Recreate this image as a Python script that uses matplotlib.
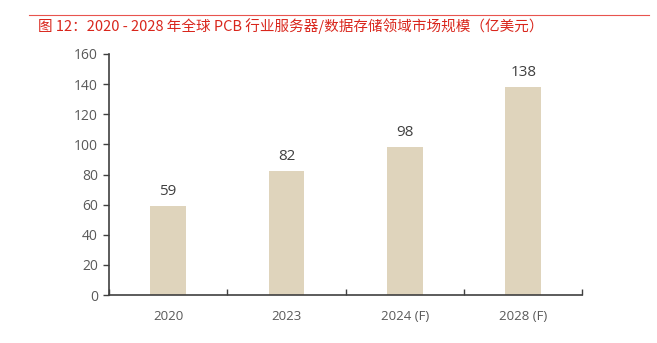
import matplotlib
matplotlib.use("Agg")
from matplotlib import pyplot as plt
from matplotlib.lines import Line2D

plt.rcParams['font.family'] = ['Noto Sans CJK SC', 'DejaVu Sans']

years = ['2020', '2023', '2024 (F)', '2028 (F)']
market = [59, 82, 98, 138]
yticks = [0, 20, 40, 60, 80, 100, 120, 140, 160]

fig = plt.figure(figsize=(6.57, 3.43), dpi=100)
ax = fig.add_axes([0.1659, 0.1399, 0.7205, 0.7027])

x = range(len(years))
bars = ax.bar(x, market, width=0.30, color='#DFD4BC')
for b, v in zip(bars, market):
    ax.text(b.get_x() + b.get_width() / 2, v + 5, str(v), ha='center', va='bottom',
            fontsize=11, color='#404040', family=['Open Sans', 'DejaVu Sans'])

ax.set_xlim(-0.5, len(years) - 0.5)
ax.set_ylim(0, 160)
ax.set_yticks(yticks)
ax.set_xticks(list(x))
ax.set_xticklabels(years)
ax.set_xticks([i - 0.5 for i in range(len(years) + 1)], minor=True)
ax.tick_params(axis='x', which='major', length=0, pad=11, labelsize=9.5, labelcolor='#595959')
ax.tick_params(axis='x', which='minor', direction='in', length=4, width=1, color='#404040')
ax.tick_params(axis='y', length=4, width=1, color='#404040', pad=4, labelsize=10, labelcolor='#595959')
for lab in ax.get_xticklabels() + ax.get_yticklabels():
    lab.set_family(['Open Sans', 'DejaVu Sans'])

for s in ['top', 'right']:
    ax.spines[s].set_visible(False)
for s in ['left', 'bottom']:
    ax.spines[s].set_color('#404040')
    ax.spines[s].set_linewidth(1.2)

# header rule and title
fig.add_artist(Line2D([29 / 657, 649 / 657], [1 - 15 / 343, 1 - 15 / 343], color='#E8544E', lw=0.8))
fig.text(38 / 657, 1 - 26 / 343, '图 12：2020 - 2028 年全球 PCB 行业服务器/数据存储领域市场规模（亿美元）',
         color='#D9261C', fontsize=10.5, va='center', ha='left')

fig.savefig('out.png', dpi=100)
